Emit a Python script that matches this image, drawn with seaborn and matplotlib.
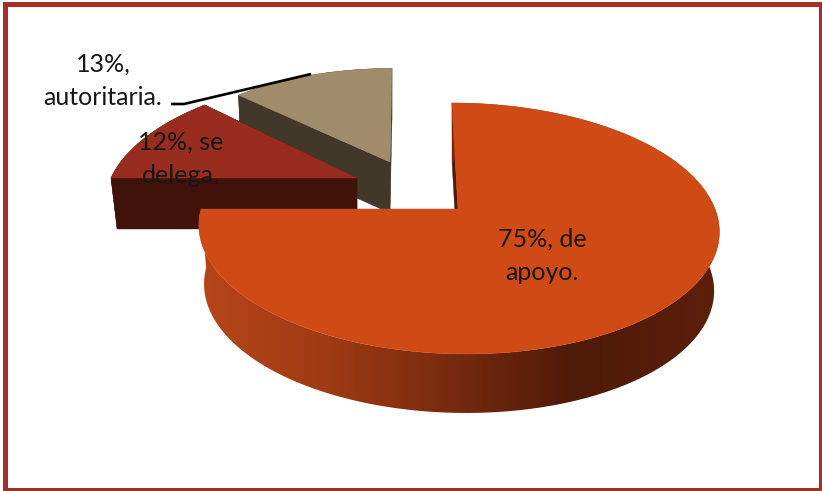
import numpy as np
import matplotlib
matplotlib.use("Agg")
import matplotlib.pyplot as plt
from matplotlib.patches import Polygon, Rectangle
from matplotlib.colors import LinearSegmentedColormap
import seaborn as sns

# Survey shares for each leadership style
categories = ["de apoyo.", "se delega.", "autoritaria."]
values = [75, 12, 13]
label_breaks = ["{}%, de\napoyo.", "{}%, se\ndelega.", "{}%,\nautoritaria."]

top_colors = ["#D04A15", "#982C1E", "#A08C6A"]
wall_colors = ["#4F1A08", "#40120A", "#423829"]

sns.set_theme(style="white")
plt.rcParams["font.family"] = ["Lato", "DejaVu Sans"]

W, H = 822, 491
fig = plt.figure(figsize=(W / 100, H / 100), dpi=100, facecolor="white")
ax = fig.add_axes([0, 0, 1, 1])
ax.set_xlim(0, W)
ax.set_ylim(H, 0)
ax.axis("off")

# Each exploded slice has its own perspective frame
frames = [
    dict(apex=(458, 209), rx=257, ry=122.5, tilt=0.155, shear=-7, depth=59, taper=0.98),
    dict(apex=(357, 178), rx=246, ry=118, tilt=0.155, shear=16, depth=51, taper=0.975),
    dict(apex=(390, 162), rx=232, ry=108, tilt=0.155, shear=2.3, depth=51, taper=0.985),
]

fractions = np.cumsum([0] + values) / np.sum(values)


def project(theta, frame, radius=1.0):
    """Map clockwise-from-top angles on the disc to the tilted view."""
    u, v = radius * np.sin(theta), radius * np.cos(theta)
    w = 1 + frame["tilt"] * v
    x = frame["apex"][0] + (frame["rx"] * u + frame["shear"] * v) / w
    y = frame["apex"][1] - frame["ry"] * v / w
    return np.column_stack([x, y])


def drop(points, frame):
    """Move points from the top face to the bottom face."""
    out = points.copy()
    out[:, 0] = frame["apex"][0] + (out[:, 0] - frame["apex"][0]) * frame["taper"]
    out[:, 1] = out[:, 1] + frame["depth"]
    return out


def draw_slice(i, gradient=False):
    frame = frames[i]
    theta = 2 * np.pi * np.linspace(fractions[i], fractions[i + 1], 240)
    arc = project(theta, frame)
    apex = np.array([frame["apex"]], dtype=float)
    top = np.vstack([apex, arc])
    bottom = drop(top, frame)
    layer = i * -2 + 6

    # Radial walls at the cut edges; the large slice only shows its first one
    edges = ((0, 1),) if gradient else ((0, 1), (len(top) - 1, 0))
    for a, b in edges:
        quad = np.vstack([top[a], top[b], bottom[b], bottom[a]])
        ax.add_patch(Polygon(quad, closed=True, fc=wall_colors[i], ec=wall_colors[i], lw=0.3, zorder=layer))

    # Outer rim
    rim = np.vstack([arc, drop(arc, frame)[::-1]])
    if gradient:
        stops = [(0.0, "#B8451A"), (0.25, "#9E3A14"), (0.5, "#74290E"),
                 (0.72, "#4F1A08"), (1.0, "#5C1F0A")]
        cmap = LinearSegmentedColormap.from_list("rim", stops)
        ramp = np.linspace(0, 1, 512).reshape(1, -1)
        xmin, xmax = rim[:, 0].min(), rim[:, 0].max()
        ymin, ymax = rim[:, 1].min(), rim[:, 1].max()
        image = ax.imshow(ramp, cmap=cmap, extent=(xmin, xmax, ymax, ymin), aspect="auto",
                          zorder=layer, interpolation="bilinear")
        image.set_clip_path(Polygon(rim, closed=True, transform=ax.transData))
        ax.set_xlim(0, W)
        ax.set_ylim(H, 0)
    else:
        ax.add_patch(Polygon(rim, closed=True, fc=wall_colors[i], ec=wall_colors[i], lw=0.3, zorder=layer))

    # Top face
    ax.add_patch(Polygon(top, closed=True, fc=top_colors[i], ec=top_colors[i], lw=0.3, zorder=layer + 0.5))


for i in range(3):
    draw_slice(i, gradient=(i == 0))

# Leader line for the smallest-cut label
ax.plot([171, 184, 311], [104, 104, 74], color="black", lw=1.9, solid_capstyle="butt",
        solid_joinstyle="miter", zorder=8)

label_anchor = [(542, 256), (181, 159), (103, 81)]
for value, template, (x, y) in zip(values, label_breaks, label_anchor):
    ax.text(x, y, template.format(value), ha="center", va="center", fontsize=18,
            color="#161616", linespacing=1.52, zorder=9)

# Chart frame
ax.add_patch(Rectangle((5, 3.5), 816, 486.5, fill=False, ec="#A33022", lw=3.6, zorder=10))

fig.savefig("out.png", dpi=100, facecolor="white")
